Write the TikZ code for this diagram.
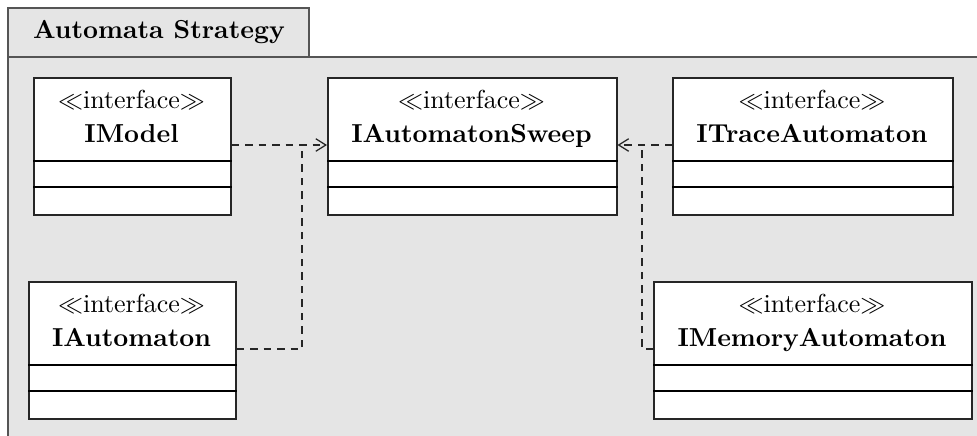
\documentclass[tikz,border=0pt]{standalone}
\usetikzlibrary{arrows.meta}
\definecolor{pkgfill}{HTML}{E5E5E5}
\definecolor{pkgline}{HTML}{555555}
\begin{document}
\begin{tikzpicture}[x=0.4pt,y=-0.4pt,
  every node/.style={font=\fontsize{10.4}{12.5}\selectfont},
  pkg/.style={draw=pkgline,fill=pkgfill,line width=0.6pt},
  umlbox/.style={draw=black!85,fill=white,line width=0.6pt,anchor=north west,inner sep=0pt},
  stereo/.style={anchor=base,inner sep=0pt},
  cname/.style={anchor=base,inner sep=0pt,font=\fontsize{10.4}{12.5}\selectfont\bfseries},
  dep/.style={dashed,dash pattern=on 3pt off 2.4pt,line width=0.5pt,draw=black!85},
  deparrow/.style={dep,-{Straight Barb[length=4pt,width=5pt]}}
]
\useasboundingbox (0,0) rectangle (977,435);
\clip (0,0) rectangle (977,435);
% package
\draw[pkg] (8,57) rectangle (1000,460);
\draw[pkg] (8,8) rectangle (309,57);
\node[cname] (title) at (159,38) {Automata Strategy};

% boxes
\node[umlbox,minimum width=197*0.4pt,minimum height=137*0.4pt] (imodel) at (33,77) {};
\node[umlbox,minimum width=289*0.4pt,minimum height=137*0.4pt] (sweep) at (327,77) {};
\node[umlbox,minimum width=280*0.4pt,minimum height=137*0.4pt] (trace) at (672,77) {};
\node[umlbox,minimum width=207*0.4pt,minimum height=137*0.4pt] (iauto) at (28,281) {};
\node[umlbox,minimum width=318*0.4pt,minimum height=137*0.4pt] (imem) at (653,281) {};

% compartments
\foreach \b/\t in {imodel/77,sweep/77,trace/77,iauto/281,imem/281}{
  \draw[line width=0.6pt] (\b.west |- 0,\t+84) -- (\b.east |- 0,\t+84);
  \draw[line width=0.6pt] (\b.west |- 0,\t+110) -- (\b.east |- 0,\t+110);
}

% texts
\node[stereo] (s1) at (131.5,108) {$\ll$interface$\gg$};
\node[cname] (n1) at (131.5,142) {IModel};
\node[stereo] (s2) at (471.5,108) {$\ll$interface$\gg$};
\node[cname] (n2) at (471.5,142) {IAutomatonSweep};
\node[stereo] (s3) at (812,108) {$\ll$interface$\gg$};
\node[cname] (n3) at (812,142) {ITraceAutomaton};
\node[stereo] (s4) at (131.5,312) {$\ll$interface$\gg$};
\node[cname] (n4) at (131.5,346) {IAutomaton};
\node[stereo] (s5) at (812,312) {$\ll$interface$\gg$};
\node[cname] (n5) at (812,346) {IMemoryAutomaton};

% connectors
\coordinate (ay) at (0,145);
\coordinate (by) at (0,349);
\coordinate (j1) at (302,147);
\coordinate (j2) at (642,147);
\draw[deparrow] (imodel.east |- ay) -- (sweep.west |- ay);
\draw[deparrow] (trace.west |- ay) -- (sweep.east |- ay);
\draw[dep] (iauto.east |- by) -| (j1);
\draw[dep] (imem.west |- by) -| (j2);
\end{tikzpicture}
\end{document}
